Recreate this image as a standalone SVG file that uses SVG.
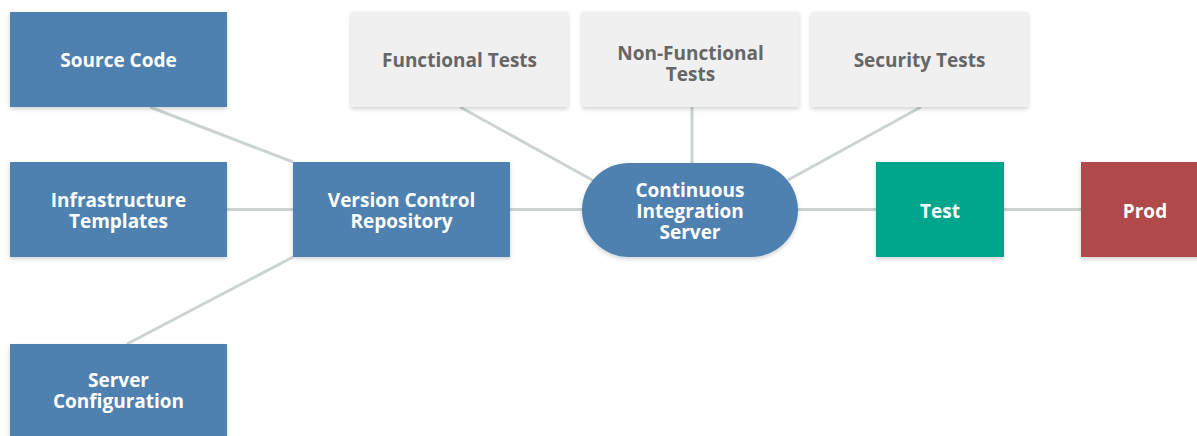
<svg xmlns="http://www.w3.org/2000/svg" width="1197" height="436" viewBox="0 0 1197 436">
<defs>
<filter id="sh" x="-10%" y="-10%" width="120%" height="130%">
<feDropShadow dx="0" dy="2" stdDeviation="2" flood-color="#000" flood-opacity="0.18"/>
</filter>
<style>
.b{fill:#4f81b0;filter:url(#sh)}
.g{fill:#f0f0f0;filter:url(#sh)}
.t{fill:#00a68b;filter:url(#sh)}
.r{fill:#b04849;filter:url(#sh)}
text{font-family:"Open Sans","DejaVu Sans",sans-serif;font-weight:bold;font-size:19px;text-anchor:middle;fill:#fff}
.d{fill:#666}
.c line{stroke:#cdd3d3;stroke-width:3}
</style>
</defs>
<rect width="1197" height="436" fill="#fff"/>
<g class="c" id="connectors">
<line x1="150" y1="107" x2="293" y2="162"/>
<line x1="227" y1="209.5" x2="293" y2="209.5"/>
<line x1="127" y1="344" x2="293" y2="257"/>
<line x1="510" y1="209.5" x2="582" y2="209.5"/>
<line x1="460" y1="107" x2="594" y2="181"/>
<line x1="692" y1="107" x2="692" y2="163"/>
<line x1="921" y1="107" x2="788" y2="180"/>
<line x1="798" y1="209.5" x2="876" y2="209.5"/>
<line x1="1004" y1="209.5" x2="1081" y2="209.5"/>
</g>
<g id="source-code"><rect class="b" x="10" y="12" width="217" height="95"/><text x="118.5" y="67">Source Code</text></g>
<g id="infrastructure-templates"><rect class="b" x="10" y="162" width="217" height="95"/><text x="118.5" y="207">Infrastructure</text><text x="118.5" y="228">Templates</text></g>
<g id="server-configuration"><rect class="b" x="10" y="344" width="217" height="100"/><text x="118.5" y="387">Server</text><text x="118.5" y="408">Configuration</text></g>
<g id="version-control"><rect class="b" x="293" y="162" width="217" height="95"/><text x="401.5" y="207">Version Control</text><text x="401.5" y="228">Repository</text></g>
<g id="functional-tests"><rect class="g" x="351" y="12" width="217" height="95"/><text class="d" x="459.5" y="67">Functional Tests</text></g>
<g id="non-functional-tests"><rect class="g" x="582" y="12" width="217" height="95"/><text class="d" x="690.5" y="60">Non-Functional</text><text class="d" x="690.5" y="81">Tests</text></g>
<g id="security-tests"><rect class="g" x="811" y="12" width="217" height="95"/><text class="d" x="919.5" y="67">Security Tests</text></g>
<g id="ci-server"><rect class="b" x="582" y="163" width="216" height="94" rx="47" ry="47"/><text x="690" y="197">Continuous</text><text x="690" y="218">Integration</text><text x="690" y="239">Server</text></g>
<g id="test"><rect class="t" x="876" y="162" width="128" height="95"/><text x="940" y="218">Test</text></g>
<g id="prod"><rect class="r" x="1081" y="162" width="130" height="95"/><text x="1145" y="218">Prod</text></g>
</svg>
